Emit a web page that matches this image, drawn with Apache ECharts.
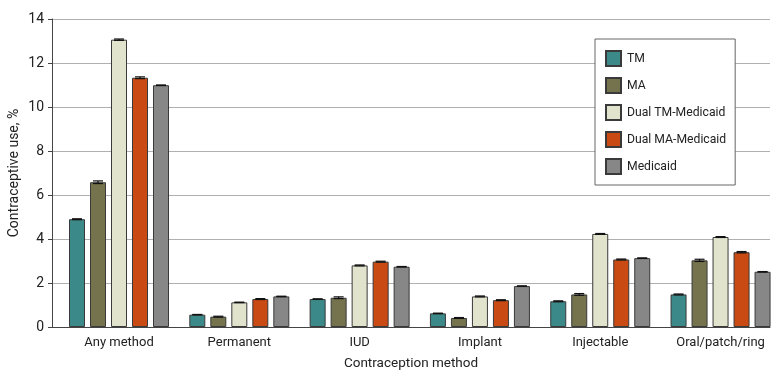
<!DOCTYPE html>
<html><head><meta charset="utf-8">
<script src="https://cdn.jsdelivr.net/npm/echarts@6/dist/echarts.min.js"></script>
<style>html,body{margin:0;padding:0;background:#fff}#c{width:780px;height:382px}</style>
</head><body><div id="c"></div>
<script>
const categories = ['Any method','Permanent','IUD','Implant','Injectable','Oral/patch/ring'];
const seriesNames = ['TM','MA','Dual TM-Medicaid','Dual MA-Medicaid','Medicaid'];
const tm       = [4.90, 0.56, 1.27, 0.62, 1.17, 1.48];
const ma       = [6.58, 0.47, 1.33, 0.41, 1.48, 3.03];
const dualTm   = [13.06, 1.12, 2.80, 1.39, 4.23, 4.09];
const dualMa   = [11.33, 1.27, 2.97, 1.22, 3.07, 3.40];
const medicaid = [10.99, 1.39, 2.74, 1.86, 3.13, 2.51];
const tmErr       = [0.02, 0.01, 0.01, 0.01, 0.02, 0.02];
const maErr       = [0.06, 0.02, 0.04, 0.02, 0.04, 0.05];
const dualTmErr   = [0.03, 0.01, 0.02, 0.02, 0.02, 0.02];
const dualMaErr   = [0.04, 0.02, 0.02, 0.02, 0.02, 0.03];
const medicaidErr = [0.01, 0.01, 0.01, 0.01, 0.01, 0.01];
const yTicks = [0, 2, 4, 6, 8, 10, 12, 14];

const colors = ['#3b8a89', '#74734d', '#e1e3cd', '#c94a12', '#878787'];
const allVals = [tm, ma, dualTm, dualMa, medicaid];
const allErr = [tmErr, maErr, dualTmErr, dualMaErr, medicaidErr];
const FONT = 'Roboto';
const BW = 16, STEP = 21;

const chart = echarts.init(document.getElementById('c'));
const series = [];
allVals.forEach((vals, s) => {
  series.push({
    name: seriesNames[s], type: 'bar', barWidth: BW, barGap: ((STEP - BW) / BW * 100) + '%',
    itemStyle: { color: colors[s], borderColor: '#3a3a3a', borderWidth: 1 },
    data: vals.map((v, i) => [i, v])
  });
});
allVals.forEach((vals, s) => {
  series.push({
    type: 'custom', silent: true, z: 5, clip: true,
    dimensions: ['x', 'lo', 'hi'],
    encode: { x: 0, y: [1, 2] },
    data: vals.map((v, i) => [i, v - allErr[s][i], v + allErr[s][i]]),
    renderItem: function (params, api) {
      const off = (s - 2) * STEP;
      const lo = api.coord([api.value(0), api.value(1)]);
      const hi = api.coord([api.value(0), api.value(2)]);
      const x = lo[0] + off, hw = 5;
      const st = { stroke: '#111', lineWidth: 1.2 };
      return { type: 'group', children: [
        { type: 'line', shape: { x1: x, y1: lo[1], x2: x, y2: hi[1] }, style: st },
        { type: 'line', shape: { x1: x - hw, y1: lo[1], x2: x + hw, y2: lo[1] }, style: st },
        { type: 'line', shape: { x1: x - hw, y1: hi[1], x2: x + hw, y2: hi[1] }, style: st }
      ]};
    }
  });
});

chart.setOption({
  animation: false,
  textStyle: { fontFamily: FONT },
  grid: { left: 52, right: 10, top: 19, bottom: 55, containLabel: false, outerBoundsMode: 'none' },
  legend: {
    data: seriesNames, orient: 'vertical', left: 595, top: 39,
    backgroundColor: '#fff', borderColor: '#666', borderWidth: 1, borderRadius: 0,
    padding: [11, 9, 10, 10], itemWidth: 15, itemHeight: 15, itemGap: 10,
    icon: 'rect',
    textStyle: { fontFamily: FONT, fontSize: 12.2, color: '#222', padding: [0, 0, 0, 1] }
  },
  xAxis: {
    type: 'value', min: -0.557, max: 5.411,
    name: 'Contraception method', nameLocation: 'middle', nameGap: 30,
    nameTextStyle: { fontFamily: FONT, fontSize: 13.5, color: '#222' },
    axisLine: { show: true, onZero: false, lineStyle: { color: '#444', width: 1 } },
    axisTick: { show: false },
    splitLine: { show: false },
    axisLabel: {
      customValues: [0, 1, 2, 3, 4, 5], margin: 9,
      formatter: v => categories[Math.round(v)],
      fontFamily: FONT, fontSize: 13, color: '#222'
    }
  },
  yAxis: {
    type: 'value', min: yTicks[0], max: yTicks[yTicks.length - 1], interval: 2,
    name: 'Contraceptive use, %', nameLocation: 'middle', nameGap: 31, nameMoveOverlap: false,
    nameTextStyle: { fontFamily: FONT, fontSize: 14, color: '#222' },
    axisLine: { show: true, onZero: false, lineStyle: { color: '#444', width: 1 } },
    axisTick: { show: true, length: 4, lineStyle: { color: '#444' } },
    splitLine: { show: true, lineStyle: { color: '#b0b0b0', width: 1 } },
    axisLabel: { fontFamily: FONT, fontSize: 14, color: '#222', margin: 8 }
  },
  series: series
});
</script></body></html>
